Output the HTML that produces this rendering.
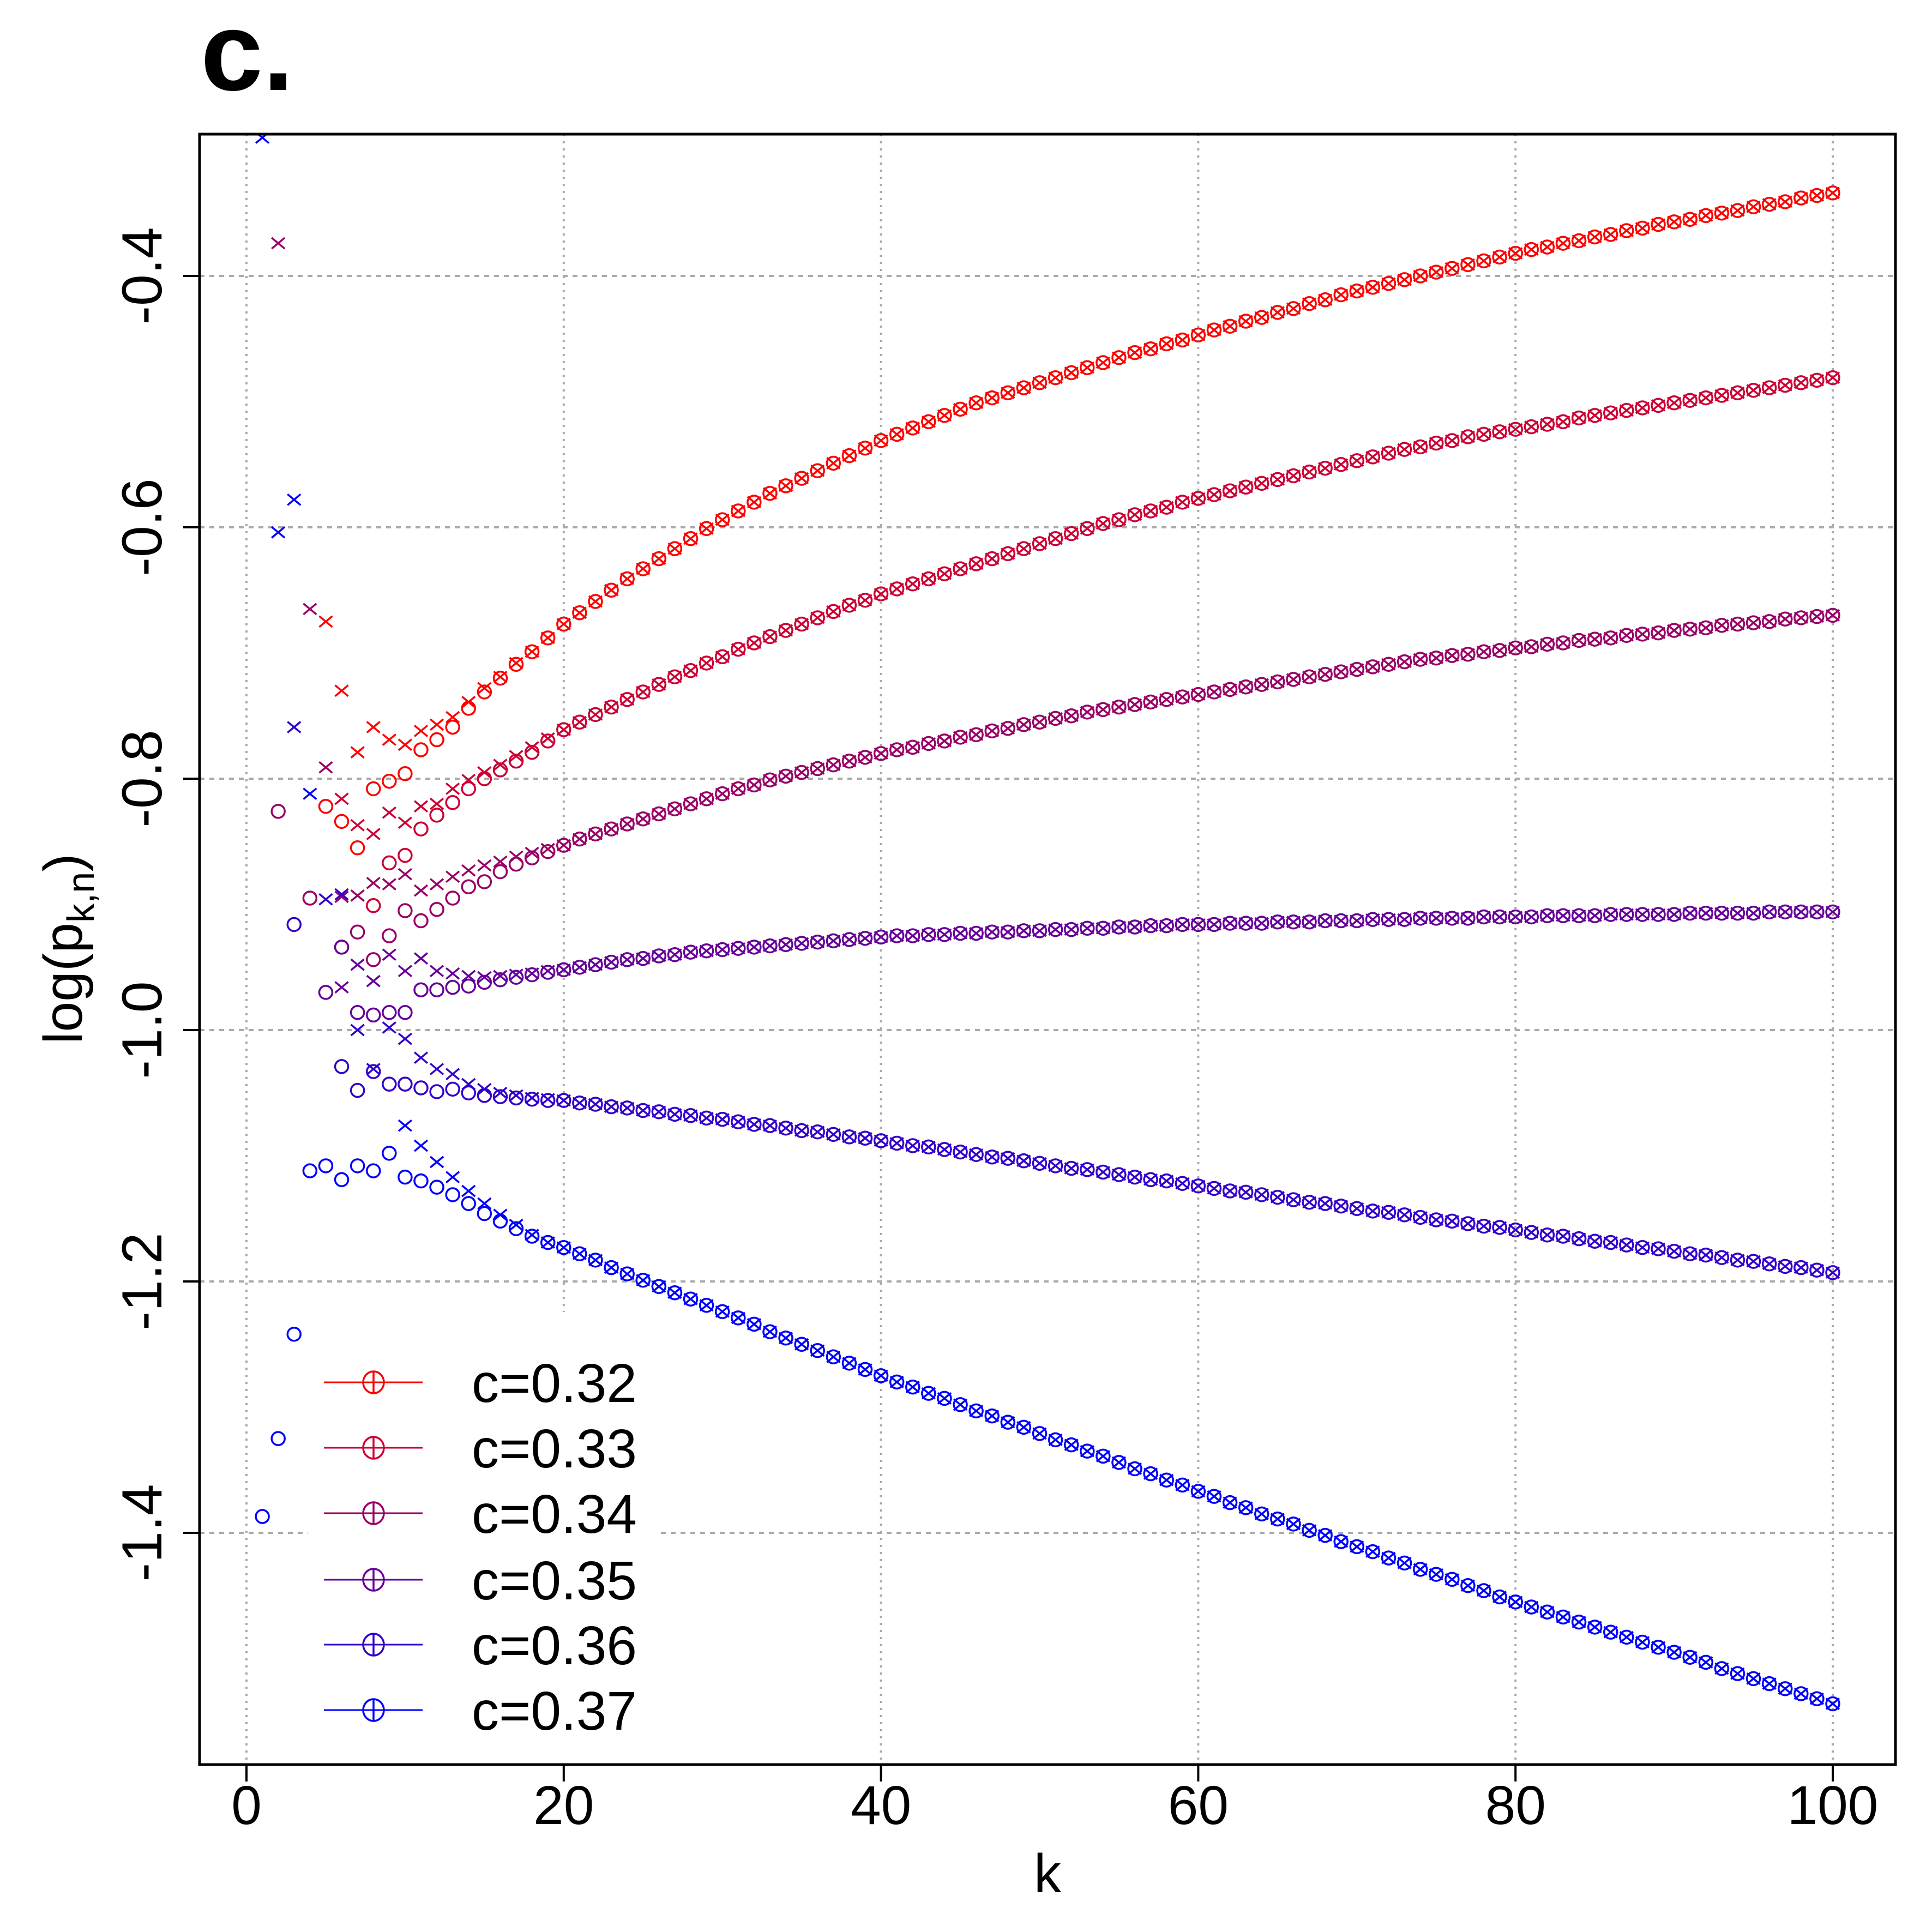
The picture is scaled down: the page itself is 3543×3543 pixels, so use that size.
<!DOCTYPE html>
<html><head><meta charset="utf-8"><style>
html,body{margin:0;padding:0;background:#fff;}
svg{display:block;}
text{font-family:"Liberation Sans",Arial,sans-serif;}
</style></head><body>
<svg id="chart" xmlns="http://www.w3.org/2000/svg" width="3543" height="3543" viewBox="0 0 3543 3543">
<rect width="3543" height="3543" fill="#fff"/>
<text x="368" y="165" font-size="205" font-weight="bold">c.</text>
<defs><clipPath id="plotclip"><rect x="366" y="246" width="3110" height="2990"/></clipPath></defs>
<g id="grid"></g>
<g id="legendbg"></g>
<g id="marks" clip-path="url(#plotclip)"></g>
<rect x="366" y="246" width="3110" height="2990" fill="none" stroke="#000" stroke-width="5"/>
<g id="axes"></g>
<g id="legend"></g>
<text x="1921" y="3470" font-size="100" text-anchor="middle">k</text>
<text transform="translate(150,1740) rotate(-90)" font-size="100" text-anchor="middle">log(p<tspan font-size="70" dy="22">k,n</tspan><tspan dy="-22">)</tspan></text>
</svg>
<script>
const xTicks = [0,20,40,60,80,100];
const xTickLabels = ["0","20","40","60","80","100"];
const yTicks = [-0.4,-0.6,-0.8,-1.0,-1.2,-1.4];
const yTickLabels = ["-0.4","-0.6","-0.8","-1.0","-1.2","-1.4"];
const seriesLabels = ["c=0.32","c=0.33","c=0.34","c=0.35","c=0.36","c=0.37"];
const seriesColors = ["#ff0000","#cc0033","#990066","#660099","#3300cc","#0000ff"];
const N = null;
const circ32 = [N,N,N,N,-0.822,-0.834,-0.855,-0.808,-0.802,-0.796,-0.777,-0.769,-0.759,-0.744,-0.731,-0.720,-0.709,-0.699,-0.688,-0.677,
-0.668,-0.659,-0.650,-0.641,-0.633,-0.625,-0.617,-0.609,-0.601,-0.594,-0.587,-0.580,-0.573,-0.567,-0.561,-0.555,-0.549,-0.543,-0.537,-0.531,
-0.526,-0.521,-0.516,-0.511,-0.506,-0.501,-0.497,-0.493,-0.489,-0.485,-0.481,-0.477,-0.473,-0.469,-0.465,-0.461,-0.458,-0.454,-0.451,-0.447,
-0.443,-0.440,-0.436,-0.433,-0.429,-0.426,-0.422,-0.419,-0.415,-0.412,-0.409,-0.406,-0.403,-0.400,-0.397,-0.394,-0.391,-0.388,-0.385,-0.382,
-0.379,-0.377,-0.374,-0.372,-0.369,-0.367,-0.364,-0.362,-0.359,-0.357,-0.355,-0.352,-0.350,-0.348,-0.345,-0.343,-0.341,-0.338,-0.336,-0.334];
const crossEarly32 = [N,N,N,N,-0.675,-0.730,-0.779,-0.759,-0.769,-0.773,-0.762,-0.757,-0.751,-0.739,-0.728,-0.719,-0.708,-0.699,-0.688,-0.677];
const circ33 = [N,N,N,N,N,-0.934,N,-0.901,-0.867,-0.861,-0.840,-0.829,-0.819,-0.808,-0.800,-0.793,-0.786,-0.779,-0.770,-0.761,
-0.755,-0.749,-0.743,-0.737,-0.731,-0.725,-0.719,-0.714,-0.708,-0.703,-0.697,-0.692,-0.687,-0.682,-0.677,-0.672,-0.667,-0.662,-0.658,-0.653,
-0.649,-0.645,-0.641,-0.637,-0.633,-0.629,-0.625,-0.621,-0.617,-0.613,-0.609,-0.605,-0.601,-0.597,-0.594,-0.590,-0.587,-0.584,-0.580,-0.577,
-0.574,-0.571,-0.568,-0.565,-0.562,-0.559,-0.556,-0.553,-0.550,-0.547,-0.544,-0.541,-0.538,-0.536,-0.533,-0.531,-0.528,-0.526,-0.524,-0.522,
-0.520,-0.518,-0.516,-0.513,-0.511,-0.509,-0.507,-0.505,-0.503,-0.501,-0.499,-0.497,-0.495,-0.493,-0.491,-0.489,-0.487,-0.485,-0.483,-0.481];
const crossEarly33 = [N,N,N,N,N,-0.816,-0.837,-0.844,-0.827,-0.835,-0.822,-0.820,-0.808,-0.801,-0.795,-0.789,-0.782,-0.775,-0.768,-0.761];
const circ34 = [N,-0.826,N,-0.895,N,N,-0.922,-0.944,-0.925,-0.905,-0.913,-0.904,-0.895,-0.886,-0.882,-0.874,-0.868,-0.863,-0.858,-0.853,
-0.848,-0.844,-0.840,-0.836,-0.832,-0.828,-0.824,-0.820,-0.816,-0.812,-0.808,-0.805,-0.801,-0.798,-0.795,-0.792,-0.789,-0.786,-0.783,-0.780,
-0.777,-0.775,-0.772,-0.770,-0.767,-0.765,-0.762,-0.760,-0.757,-0.755,-0.752,-0.750,-0.747,-0.745,-0.743,-0.741,-0.739,-0.737,-0.735,-0.733,
-0.731,-0.729,-0.727,-0.725,-0.723,-0.721,-0.719,-0.717,-0.715,-0.713,-0.711,-0.709,-0.707,-0.705,-0.704,-0.702,-0.701,-0.699,-0.698,-0.696,
-0.695,-0.693,-0.692,-0.690,-0.689,-0.688,-0.686,-0.685,-0.684,-0.682,-0.681,-0.680,-0.678,-0.677,-0.676,-0.675,-0.673,-0.672,-0.671,-0.670];
const crossEarly34 = [N,-0.374,N,-0.665,-0.791,-0.894,-0.893,-0.883,-0.884,-0.876,-0.889,-0.884,-0.878,-0.873,-0.869,-0.866,-0.862,-0.859,-0.856,-0.853];
const circ35 = [N,N,N,N,-0.970,-0.934,-0.986,-0.988,-0.986,-0.986,-0.968,-0.968,-0.966,-0.965,-0.962,-0.960,-0.958,-0.956,-0.954,-0.952,
-0.950,-0.948,-0.946,-0.944,-0.943,-0.941,-0.940,-0.938,-0.937,-0.936,-0.935,-0.934,-0.933,-0.932,-0.931,-0.930,-0.929,-0.928,-0.927,-0.926,
-0.925,-0.925,-0.924,-0.924,-0.923,-0.923,-0.922,-0.922,-0.921,-0.921,-0.920,-0.920,-0.919,-0.919,-0.918,-0.918,-0.917,-0.917,-0.916,-0.916,
-0.916,-0.915,-0.915,-0.915,-0.914,-0.914,-0.914,-0.913,-0.913,-0.913,-0.912,-0.912,-0.912,-0.911,-0.911,-0.911,-0.911,-0.910,-0.910,-0.910,
-0.910,-0.909,-0.909,-0.909,-0.909,-0.908,-0.908,-0.908,-0.908,-0.908,-0.907,-0.907,-0.907,-0.907,-0.907,-0.906,-0.906,-0.906,-0.906,-0.906];
const crossEarly35 = [N,N,N,N,N,-0.966,-0.948,-0.961,-0.940,-0.953,-0.943,-0.953,-0.955,-0.957,-0.958,-0.957,-0.956,-0.955,-0.953,-0.952];
const circ36 = [N,N,-0.916,N,N,-1.029,-1.048,-1.033,-1.043,-1.043,-1.046,-1.049,-1.047,-1.050,-1.052,-1.053,-1.054,-1.055,-1.056,-1.056,
-1.058,-1.059,-1.061,-1.062,-1.064,-1.065,-1.067,-1.068,-1.070,-1.071,-1.073,-1.075,-1.076,-1.078,-1.080,-1.081,-1.083,-1.085,-1.086,-1.088,
-1.090,-1.092,-1.093,-1.095,-1.097,-1.099,-1.101,-1.102,-1.104,-1.106,-1.108,-1.110,-1.111,-1.113,-1.115,-1.117,-1.119,-1.120,-1.122,-1.124,
-1.126,-1.128,-1.129,-1.131,-1.133,-1.135,-1.137,-1.138,-1.140,-1.142,-1.144,-1.145,-1.147,-1.149,-1.151,-1.152,-1.154,-1.156,-1.157,-1.159,
-1.161,-1.163,-1.164,-1.166,-1.168,-1.169,-1.171,-1.173,-1.174,-1.176,-1.178,-1.179,-1.181,-1.183,-1.184,-1.186,-1.188,-1.189,-1.191,-1.193];
const crossEarly36 = [N,N,-0.759,N,-0.896,-0.892,-1.000,-1.031,-0.998,-1.007,-1.022,-1.031,-1.035,-1.043,-1.047,-1.050,-1.052,-1.054,-1.055,-1.056];
const circ37 = [-1.387,-1.325,-1.242,-1.112,-1.108,-1.119,-1.108,-1.112,-1.098,-1.117,-1.120,-1.125,-1.131,-1.138,-1.146,-1.152,-1.158,-1.164,-1.169,-1.173,
-1.178,-1.183,-1.189,-1.194,-1.199,-1.204,-1.209,-1.214,-1.219,-1.224,-1.229,-1.234,-1.240,-1.245,-1.250,-1.255,-1.260,-1.265,-1.270,-1.275,
-1.280,-1.284,-1.289,-1.293,-1.298,-1.303,-1.307,-1.312,-1.316,-1.321,-1.326,-1.330,-1.335,-1.339,-1.344,-1.349,-1.353,-1.358,-1.362,-1.367,
-1.371,-1.376,-1.380,-1.385,-1.389,-1.393,-1.398,-1.402,-1.407,-1.411,-1.415,-1.420,-1.424,-1.429,-1.433,-1.437,-1.442,-1.446,-1.451,-1.455,
-1.459,-1.463,-1.467,-1.471,-1.475,-1.479,-1.483,-1.487,-1.491,-1.495,-1.499,-1.503,-1.508,-1.512,-1.516,-1.520,-1.524,-1.528,-1.532,-1.536];
const crossEarly37 = [-0.290,-0.604,-0.578,-0.812,N,N,N,N,N,-1.076,-1.092,-1.105,-1.117,-1.128,-1.138,-1.147,-1.155,-1.163,-1.169,-1.173];

const circles = [circ32,circ33,circ34,circ35,circ36,circ37];
const crossesEarly = [crossEarly32,crossEarly33,crossEarly34,crossEarly35,crossEarly36,crossEarly37];

const NS = "http://www.w3.org/2000/svg";
const PL=366, PR=3476, PT=246, PB=3236;
function xs(k){ return 452 + (k-0)*(3361-452)/100; }
function ys(v){ return 506 + (-0.4 - v)*2305; }
function mk(tag, attrs, parent){ const e=document.createElementNS(NS,tag); for(const a in attrs) e.setAttribute(a,attrs[a]); parent.appendChild(e); return e; }

const grid=document.getElementById('grid'), axes=document.getElementById('axes');
xTicks.forEach((t,i)=>{
  const g=mk('line',{x1:xs(t),x2:xs(t),y1:PT,y2:PB,stroke:'#aaa','stroke-width':4,'stroke-dasharray':'4 9'},grid);
  
  
  const tk=mk('line',{x1:xs(t),x2:xs(t),y1:PB,y2:PB+31,stroke:'#000','stroke-width':4},axes);
  
  
  const lb=mk('text',{x:xs(t),y:3345,'font-size':100,'text-anchor':'middle'},axes);
  lb.textContent=xTickLabels[i];
  
  
});
yTicks.forEach((t,i)=>{
  const g=mk('line',{x1:PL,x2:PR,y1:ys(t),y2:ys(t),stroke:'#aaa','stroke-width':4,'stroke-dasharray':'9 9'},grid);
  
  
  const tk=mk('line',{x1:PL-30,x2:PL,y1:ys(t),y2:ys(t),stroke:'#000','stroke-width':4},axes);
  
  
  const lb=mk('text',{transform:`translate(296,${ys(t)}) rotate(-90)`,'font-size':104,'text-anchor':'middle'},axes);
  lb.textContent=yTickLabels[i];
  
  
});
const lbg=mk('rect',{x:565,y:2406,width:645,height:828,fill:'#fff'},document.getElementById('legendbg'));



const marks=document.getElementById('marks');
const R=12, AX=12, AY=10;
circles.forEach((arr,s)=>{
  const col=seriesColors[s];
  arr.forEach((v,i)=>{
    const k=i+1;
    if(v!==null){
      const c=mk('circle',{cx:xs(k),cy:ys(v),r:R,fill:'none',stroke:col,'stroke-width':3.5},marks);
      
      
    }
    const cv = i<20 ? crossesEarly[s][i] : v;
    if(cv!==null){
      const x=xs(k), y=ys(cv);
      const p=mk('path',{d:`M${x-AX},${y-AY}L${x+AX},${y+AY}M${x-AX},${y+AY}L${x+AX},${y-AY}`,stroke:col,'stroke-width':3.5,fill:'none'},marks);
      
      
    }
  });
});
const leg=document.getElementById('legend');
const legY=[2535,2655,2775,2897,3016,3136];
seriesLabels.forEach((lab,i)=>{
  const col=seriesColors[i], y=legY[i];
  const g=mk('g',{},leg);
  
  
  mk('line',{x1:594,x2:775,y1:y,y2:y,stroke:col,'stroke-width':3},g);
  mk('ellipse',{cx:685,cy:y,rx:19,ry:20,fill:'none',stroke:col,'stroke-width':3.5},g);
  mk('line',{x1:685,x2:685,y1:y-20,y2:y+20,stroke:col,'stroke-width':3.5},g);
  const t=mk('text',{x:865,y:y+36,'font-size':100},g);
  t.textContent=lab;
});
</script>
</body></html>
